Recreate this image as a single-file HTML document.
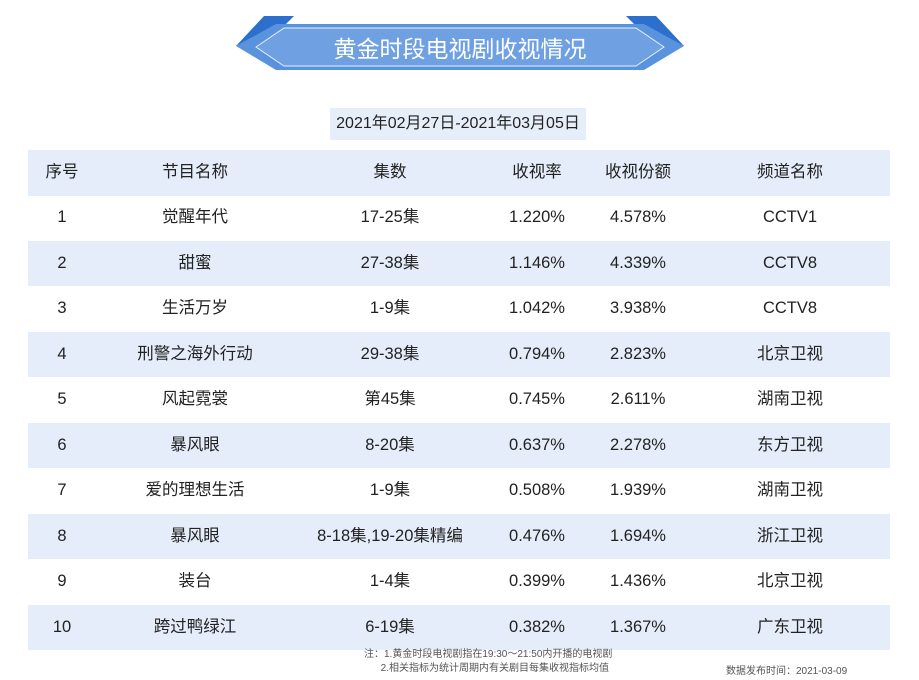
<!DOCTYPE html>
<html><head><meta charset="utf-8"><style>
body{margin:0;width:919px;height:680px;background:#fff;position:relative;overflow:hidden;font-family:"Liberation Sans","Noto Sans CJK SC",sans-serif;color:#222}
.row{position:absolute;left:28px;width:862px;height:45.5px}
.row div{position:absolute;top:0;height:45.5px;line-height:45.5px;font-size:16.5px;text-align:center;transform:translateX(-50%);white-space:nowrap}
.sh{background:#e4edf9}
</style></head><body>
<svg style="position:absolute;left:236px;top:16px" width="448" height="62">
<polygon points="28,0 58,0 50,8 8,30 0,30" fill="#2c6fcc"/>
<polygon points="420,0 390,0 398,8 440,30 448,30" fill="#2c6fcc"/>
<polygon points="0,30 40,8 408,8 448,30 408,54 40,54" fill="#5a93dd"/>
<polygon points="20,31 48,12 400,12 428,31 400,50 48,50" fill="#6ea0e2" stroke="#e6efff" stroke-width="1"/>
<text x="224" y="41" text-anchor="middle" fill="#fff" font-size="23" font-family="Liberation Sans,Noto Sans CJK SC,sans-serif">黄金时段电视剧收视情况</text>
</svg>
<div style="position:absolute;left:330px;top:108px;width:256px;height:32px;background:#e6eff9;line-height:32px;text-align:center;font-size:16px">2021年02月27日-2021年03月05日</div>
<div id="tbl"></div>
<div style="position:absolute;left:364px;top:648px;font-size:10px;color:#555;line-height:14px">注：1.黄金时段电视剧指在19:30～21:50内开播的电视剧<br>&nbsp;&nbsp;&nbsp;&nbsp;&nbsp;&nbsp;2.相关指标为统计周期内有关剧目每集收视指标均值</div>
<div style="position:absolute;left:726px;top:662px;font-size:10px;color:#555">数据发布时间：2021-03-09</div>
<script>
const headers=["序号","节目名称","集数","收视率","收视份额","频道名称"];
const names=["觉醒年代","甜蜜","生活万岁","刑警之海外行动","风起霓裳","暴风眼","爱的理想生活","暴风眼","装台","跨过鸭绿江"];
const episodes=["17-25集","27-38集","1-9集","29-38集","第45集","8-20集","1-9集","8-18集,19-20集精编","1-4集","6-19集"];
const ratings=["1.220%","1.146%","1.042%","0.794%","0.745%","0.637%","0.508%","0.476%","0.399%","0.382%"];
const shares=["4.578%","4.339%","3.938%","2.823%","2.611%","2.278%","1.939%","1.694%","1.436%","1.367%"];
const channels=["CCTV1","CCTV8","CCTV8","北京卫视","湖南卫视","东方卫视","湖南卫视","浙江卫视","北京卫视","广东卫视"];
const cx=[34,167,362,509,610,762];
const tbl=document.getElementById('tbl');
function mkRow(cells,top,shade,name){
  const r=document.createElement('div');
  r.className='row'+(shade?' sh':'');
  r.style.top=top+'px';
  
  
  cells.forEach((t,i)=>{const c=document.createElement('div');c.textContent=t;c.style.left=cx[i]+'px';
  
  
  r.appendChild(c);});
  tbl.appendChild(r);
}
mkRow(headers,150,true,'header-row');
names.forEach((n,i)=>mkRow([String(i+1),n,episodes[i],ratings[i],shares[i],channels[i]],195+i*45.5,i%2==1,'table-row'));
</script>
</body></html>
